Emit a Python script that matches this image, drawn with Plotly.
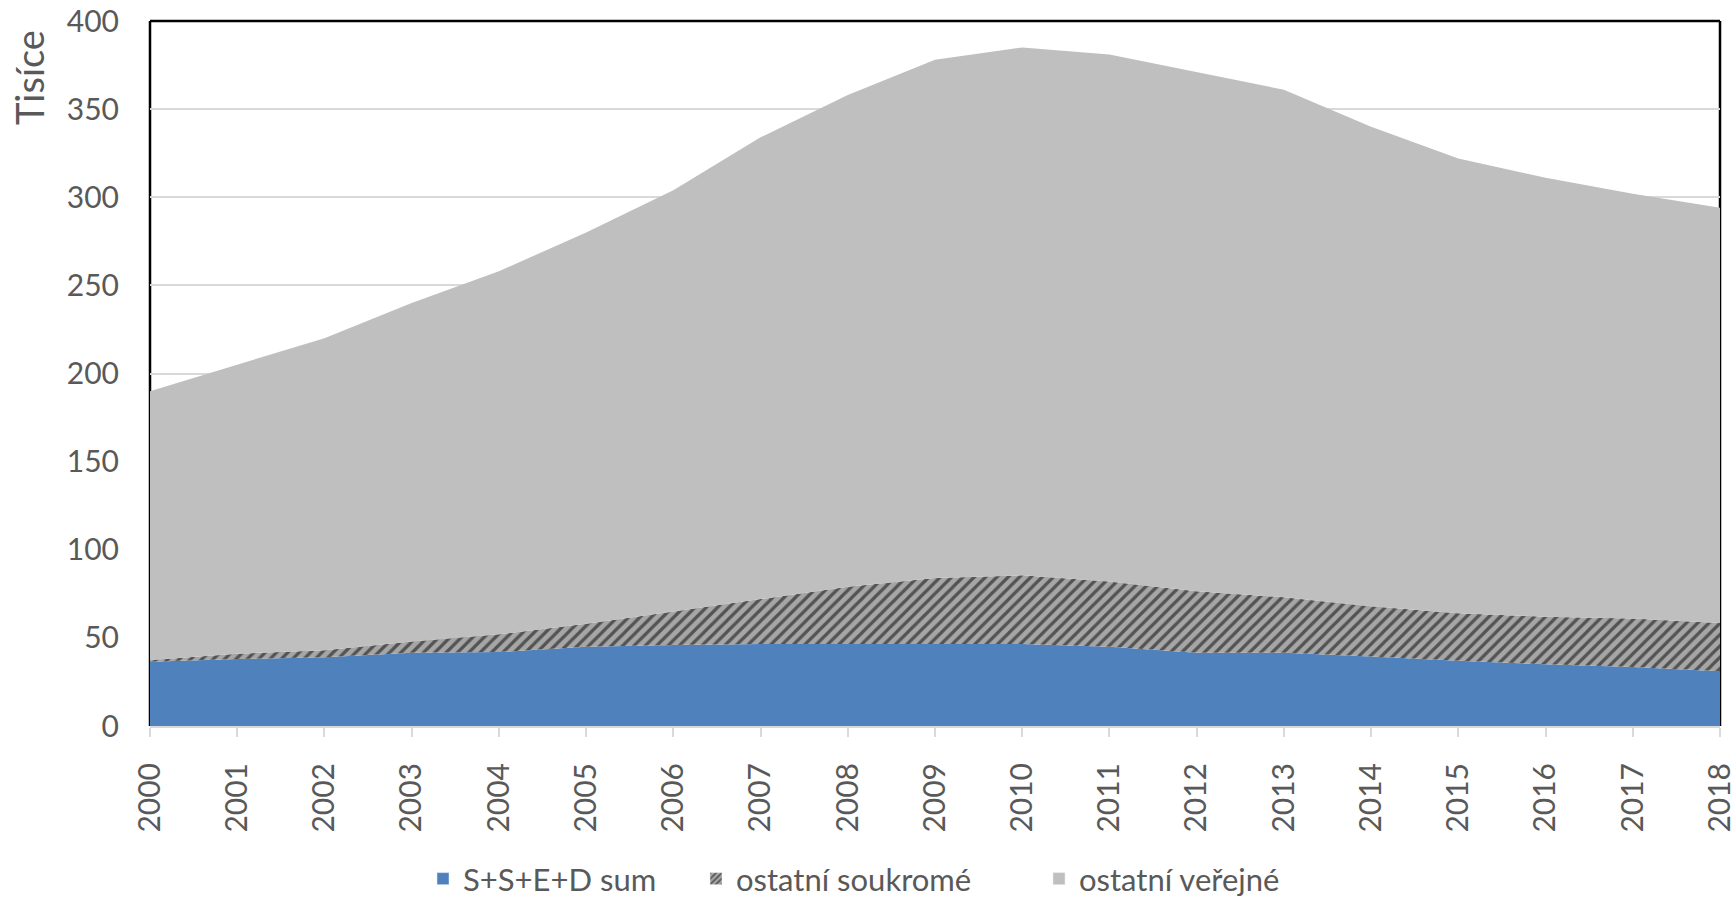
import plotly.graph_objects as go

years = list(range(2000, 2019))
ssed_sum = [36.5, 38, 39, 41.5, 42, 45, 46, 46.5, 46.5, 46.5, 46.5, 45, 41.5, 41.5, 39.5, 37, 35, 33.5, 31]
ostatni_soukrome = [1, 3, 4, 6.5, 10, 13, 19, 25.5, 32.5, 37.5, 39, 37, 35, 31.5, 28.5, 27, 27, 27.5, 27.5]
ostatni_verejne = [152.5, 164, 177, 192, 206, 222, 239, 262, 279, 294, 299.5, 299, 294.5, 288, 272, 258, 249, 241, 235.5]

names = ["S+S+E+D sum", "ostatní soukromé", "ostatní veřejné"]
BLUE = "#4f81bd"
HATCH_BG = "#a6a6a6"
GRAY = "#bfbfbf"
TXT = "#595959"
FONT = "Lato"

fig = go.Figure()
fig.add_trace(go.Scatter(x=years, y=ssed_sum, stackgroup="one", mode="lines",
                         line=dict(width=0), fillcolor=BLUE, showlegend=False, name=names[0]))
fig.add_trace(go.Scatter(x=years, y=ostatni_soukrome, stackgroup="one", mode="lines",
                         line=dict(width=0), fillcolor=HATCH_BG,
                         fillpattern=dict(shape="/", fgcolor="black", bgcolor=HATCH_BG, size=8, solidity=0.4),
                         showlegend=False, name=names[1]))
fig.add_trace(go.Scatter(x=years, y=ostatni_verejne, stackgroup="one", mode="lines",
                         line=dict(width=0), fillcolor=GRAY, showlegend=False, name=names[2]))

# legend swatches
fig.add_trace(go.Bar(x=[2000], y=[None], name=names[0], marker=dict(color=BLUE), legend="legend"))
fig.add_trace(go.Bar(x=[2000], y=[None], name=names[1],
                     marker=dict(color=HATCH_BG, pattern=dict(shape="/", fgcolor="black", bgcolor=HATCH_BG, size=5, solidity=0.4)),
                     legend="legend2"))
fig.add_trace(go.Bar(x=[2000], y=[None], name=names[2], marker=dict(color=GRAY), legend="legend3"))

W, H = 1736, 899
leg_common = dict(orientation="h", xref="container", yref="container", yanchor="middle",
                  y=1 - 879 / H, xanchor="left", font=dict(family=FONT, size=31, color=TXT),
                  bgcolor="rgba(0,0,0,0)", itemwidth=30)

line_style = dict(color="black", width=2.5)
shapes = [
    dict(type="line", xref="paper", yref="paper", x0=0, x1=0, y0=0, y1=1, line=line_style, layer="between"),
    dict(type="line", xref="paper", yref="paper", x0=0, x1=1, y0=1, y1=1, line=line_style, layer="between"),
    dict(type="line", xref="paper", yref="paper", x0=1, x1=1, y0=0, y1=1, line=line_style, layer="between"),
]

fig.update_layout(
    width=W, height=H,
    margin=dict(l=150, r=16, t=21, b=173, autoexpand=False),
    plot_bgcolor="white", paper_bgcolor="white",
    font=dict(family=FONT, color=TXT),
    showlegend=True,
    legend=dict(leg_common, x=(437 - 14) / W),
    legend2=dict(leg_common, x=(710 - 14) / W),
    legend3=dict(leg_common, x=(1053 - 14) / W),
    shapes=shapes,
    xaxis=dict(range=[2000, 2018], tickvals=years, ticktext=[str(y) for y in years],
               tickangle=-90, ticks="outside", ticklen=9, tickwidth=2, tickcolor="#d9d9d9",
               showline=True, linecolor="#d9d9d9", linewidth=2, showgrid=False, zeroline=False,
               tickfont=dict(family=FONT, size=30, color=TXT), ticklabelstandoff=14,
               ticklabeloverflow="allow"),
    yaxis=dict(range=[0, 400], dtick=50, showgrid=True, gridcolor="#d9d9d9", gridwidth=2,
               zeroline=False, showline=False, ticks="",
               tickfont=dict(family=FONT, size=30, color=TXT), ticklabelstandoff=30),
    annotations=[dict(text="Tisíce", xref="paper", yref="paper",
                      x=(29 - 150) / 1570, y=(726 - 78) / 705, xanchor="center", yanchor="middle",
                      textangle=-90, showarrow=False, font=dict(family=FONT, size=38, color=TXT))],
)

fig.write_html("out.html", config={"displayModeBar": False},
               post_script="document.body.style.margin='0';document.body.style.overflow='hidden';")
